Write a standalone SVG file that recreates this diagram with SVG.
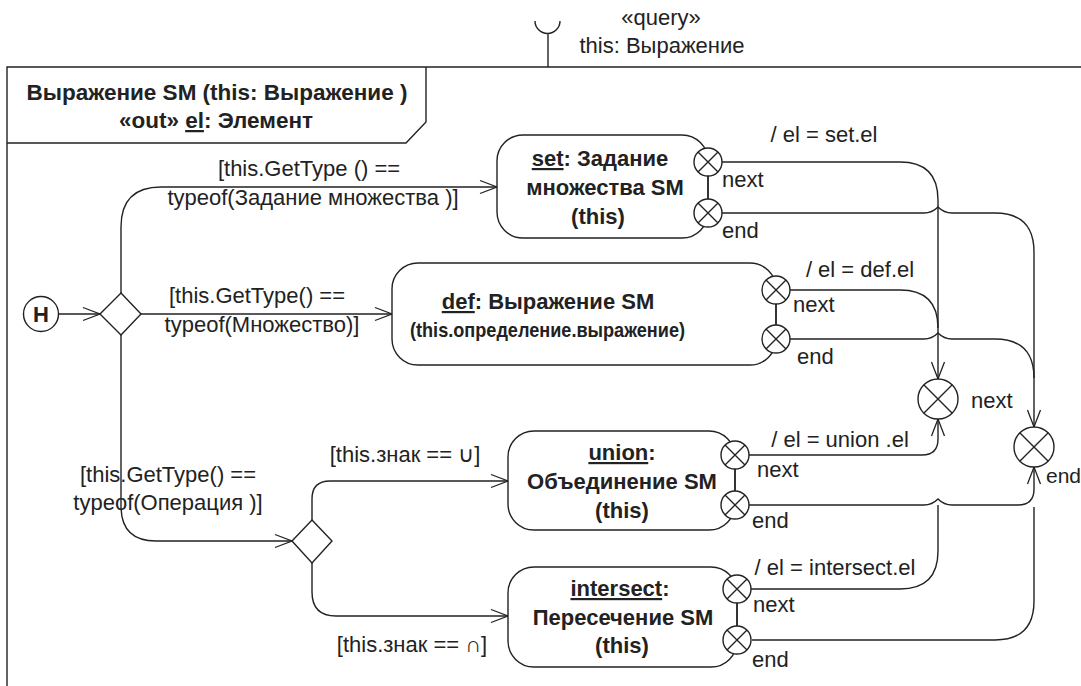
<svg xmlns="http://www.w3.org/2000/svg" width="1081" height="686" viewBox="0 0 1081 686">
<defs>
<marker id="arr" markerUnits="userSpaceOnUse" markerWidth="20" markerHeight="16" viewBox="-18 -8 20 16" refX="0" refY="0" orient="auto">
<path d="M-17,-6.5 L0,0 L-17,6.5" fill="none" stroke="#222" stroke-width="1.3"/>
</marker>
</defs>
<style>
.ln{fill:none;stroke:#222;stroke-width:1.4}
.st{fill:#fff;stroke:#222;stroke-width:1.4}
.t{font-family:"Liberation Sans",Arial,sans-serif;font-size:22px;fill:#222}
.b{font-family:"Liberation Sans",Arial,sans-serif;font-size:22px;font-weight:bold;fill:#222}
.m{text-anchor:middle}
.u{text-decoration:underline}
</style>
<rect width="1081" height="686" fill="#fff"/>
<g id="frame">
<path class="ln" d="M7,686 L7,67 L1081,67"/>
<path class="ln" d="M7,143 L406,143 L426,122 L426,67"/>
<text class="b m" x="217" y="100" style="font-size:22.5px">Выражение SM (this: Выражение )</text>
<text class="b m" x="216" y="128" style="font-size:22.5px">«out» <tspan class="u">el</tspan>: Элемент</text>
</g>
<g id="port">
<path class="ln" d="M535,21 A12.5,12.5 0 0 0 560,21 M548,33.5 L548,67"/>
<text class="t m" x="661" y="25">«query»</text>
<text class="t m" x="662" y="53">this: Выражение</text>
</g>
<g id="connectors">
<path class="ln" d="M58,314 L100,314" marker-end="url(#arr)"/>
<path class="ln" d="M141,314 L392,314" marker-end="url(#arr)"/>
<path class="ln" d="M121,293 L121,227 Q121,187 161,187 L497,187" marker-end="url(#arr)"/>
<path class="ln" d="M121,335 L121,506 Q121,541 156,541 L292,541" marker-end="url(#arr)"/>
<path class="ln" d="M312,520 L312,499 Q312,481 330,481 L508,481" marker-end="url(#arr)"/>
<path class="ln" d="M312,563 L312,592 Q312,616 336,616 L508,616" marker-end="url(#arr)"/>
<path class="ln" d="M722,162 L900,162 Q938,162 938,200 L938,379" marker-end="url(#arr)"/>
<path class="ln" d="M722,213 L924,213 Q932,213 938,207 Q944,213 952,213 L995,213 Q1034,213 1034,252 L1034,427" marker-end="url(#arr)"/>
<path class="ln" d="M790,290 L900,290 Q938,290 938,328"/>
<path class="ln" d="M790,339 L924,339 Q932,339 938,333 Q944,339 952,339 L995,339 Q1034,339 1034,378"/>
<path class="ln" d="M749,455 L922,455 Q938,455 938,439 L938,419" marker-end="url(#arr)"/>
<path class="ln" d="M749,505 L924,505 Q932,505 938,499 Q944,505 952,505 L1018,505 Q1034,505 1034,489 L1034,467" marker-end="url(#arr)"/>
<path class="ln" d="M751,589 L900,589 Q938,589 938,551 L938,505"/>
<path class="ln" d="M752,640 L995,640 Q1034,640 1034,601 L1034,507"/>
<text class="t m" x="309" y="176">[this.GetType () ==</text>
<text class="t m" x="313" y="205">typeof(Задание множества )]</text>
<text class="t m" x="257" y="303">[this.GetType() ==</text>
<text class="t m" x="262" y="332">typeof(Множество)]</text>
<text class="t m" x="168" y="482">[this.GetType() ==</text>
<text class="t m" x="168" y="510">typeof(Операция )]</text>
<text class="t m" x="405" y="462">[this.знак == ∪]</text>
<text class="t m" x="412" y="652">[this.знак == ∩]</text>
<text class="t m" x="824" y="142">/ el = set.el</text>
<text class="t m" x="860" y="277">/ el = def.el</text>
<text class="t m" x="840" y="447">/ el = union .el</text>
<text class="t m" x="835" y="575">/ el = intersect.el</text>
</g>
<g id="history">
<circle class="st" cx="41" cy="314" r="17.5"/>
<text class="b m" x="41" y="322">H</text>
</g>
<g id="decision1">
<path class="st" d="M121,293 L141,314 L121,335 L100,314 Z"/>
</g>
<g id="decision2">
<path class="st" d="M312,520 L332,541 L312,563 L292,541 Z"/>
</g>
<g id="set">
<rect class="st" x="497" y="135" width="211" height="103" rx="26"/>
<text class="b m" x="600" y="166"><tspan class="u">set</tspan>: Задание</text>
<text class="b m" x="605" y="195">множества SM</text>
<text class="b m" x="598" y="224">(this)</text>
<path class="ln" d="M708,176 L708,199"/>
<g class="st"><circle cx="708" cy="162" r="14"/><circle cx="708" cy="213" r="14"/></g>
<path class="ln" d="M698,152 L718,172 M718,152 L698,172 M698,203 L718,223 M718,203 L698,223"/>
<text class="t" x="722" y="187">next</text>
<text class="t" x="722" y="238">end</text>
</g>
<g id="def">
<rect class="st" x="392" y="263" width="384" height="102" rx="26"/>
<text class="b m" x="548" y="309"><tspan class="u">def</tspan>: Выражение SM</text>
<text class="b" x="410" y="337" style="font-size:21px" textLength="275" lengthAdjust="spacingAndGlyphs">(this.определение.выражение)</text>
<path class="ln" d="M776,304 L776,325"/>
<g class="st"><circle cx="776" cy="290" r="14"/><circle cx="776" cy="339" r="14"/></g>
<path class="ln" d="M766,280 L786,300 M786,280 L766,300 M766,329 L786,349 M786,329 L766,349"/>
<text class="t" x="793" y="312">next</text>
<text class="t" x="797" y="364">end</text>
</g>
<g id="union">
<rect class="st" x="508" y="431" width="227" height="99" rx="26"/>
<text class="b m" x="622" y="460"><tspan class="u">union</tspan>:</text>
<text class="b m" x="622" y="489">Объединение SM</text>
<text class="b m" x="622" y="518">(this)</text>
<path class="ln" d="M735,469 L735,491"/>
<g class="st"><circle cx="735" cy="455" r="14"/><circle cx="735" cy="505" r="14"/></g>
<path class="ln" d="M725,445 L745,465 M745,445 L725,465 M725,495 L745,515 M745,495 L725,515"/>
<text class="t" x="757" y="477">next</text>
<text class="t" x="752" y="528">end</text>
</g>
<g id="intersect">
<rect class="st" x="508" y="567" width="229" height="100" rx="26"/>
<text class="b m" x="620" y="596"><tspan class="u">intersect</tspan>:</text>
<text class="b m" x="623" y="625">Пересечение SM</text>
<text class="b m" x="622" y="653">(this)</text>
<path class="ln" d="M737,603 L737,626"/>
<g class="st"><circle cx="737" cy="589" r="14"/><circle cx="737" cy="640" r="14"/></g>
<path class="ln" d="M727,579 L747,599 M747,579 L727,599 M727,630 L747,650 M747,630 L727,650"/>
<text class="t" x="753" y="612">next</text>
<text class="t" x="752" y="667">end</text>
</g>
<g id="exitNext">
<circle class="st" cx="938" cy="399" r="20"/>
<path class="ln" d="M924,385 L952,413 M952,385 L924,413"/>
<text class="t" x="971" y="408">next</text>
</g>
<g id="exitEnd">
<circle class="st" cx="1034" cy="447" r="20"/>
<path class="ln" d="M1020,433 L1048,461 M1048,433 L1020,461"/>
<text class="t" x="1046" y="483" style="font-size:21px">end</text>
</g>
</svg>
